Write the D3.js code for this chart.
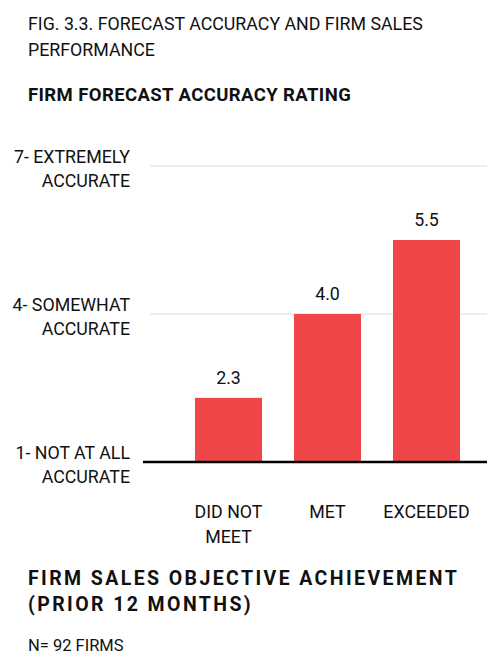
<!DOCTYPE html><html><head><meta charset="utf-8">
<script src="https://cdn.jsdelivr.net/npm/d3@7"></script>
<style>body{margin:0;background:#fff}text{font-family:"Roboto",sans-serif;fill:#111}</style>
</head><body><svg id="c" width="493" height="669"></svg>
<script>
const categories=[["DID NOT","MEET"],["MET"],["EXCEEDED"]];
const values=[2.3,4.0,5.5];
const ticks=[1,4,7];
const tickLabels=[["1- NOT AT ALL","ACCURATE"],["4- SOMEWHAT","ACCURATE"],["7- EXTREMELY","ACCURATE"]];
const svg=d3.select("#c");
const y=d3.scaleLinear().domain([1,7]).range([462,166]);
const x=d3.scaleBand().domain(d3.range(3)).range([179,476]).paddingInner(0.323).paddingOuter(0.1616);
const txt=(t,xx,yy,o={})=>svg.append("text").attr("x",xx).attr("y",yy).attr("font-size",o.s||17.8).attr("letter-spacing",o.ls||0).attr("font-weight",o.b?"bold":"normal").attr("text-anchor",o.a||"start").text(t);
txt("FIG. 3.3. FORECAST ACCURACY AND FIRM SALES",28,30);
txt("PERFORMANCE",28,56);
txt("FIRM FORECAST ACCURACY RATING",28,101,{b:1,s:18.5,ls:0.4});
ticks.forEach((t,i)=>{
 if(i>0) svg.append("line").attr("x1",150).attr("x2",487).attr("y1",y(t)).attr("y2",y(t)).attr("stroke","#ddd");
 txt(tickLabels[i][0],130,y(t)-3,{a:"end"});
 txt(tickLabels[i][1],130,y(t)+21,{a:"end"});
});
values.forEach((v,i)=>{
 const cx=x(i)+x.bandwidth()/2;
 svg.append("rect").attr("x",x(i)).attr("width",x.bandwidth()).attr("y",y(v)).attr("height",y(1)-y(v)).attr("fill","#ef4749");
 txt(v.toFixed(1),cx,y(v)-14,{a:"middle"});
 categories[i].forEach((l,j)=>txt(l,cx,518+j*25,{a:"middle"}));
});
svg.append("line").attr("x1",143).attr("x2",487).attr("y1",y(1)).attr("y2",y(1)).attr("stroke","#000").attr("stroke-width",2.5);
txt("FIRM SALES OBJECTIVE ACHIEVEMENT",28,585,{b:1,s:19.5,ls:2.4});
txt("(PRIOR 12 MONTHS)",28,611,{b:1,s:19.5,ls:2.4});
txt("N= 92 FIRMS",28,651,{s:16.5});
</script></body></html>
